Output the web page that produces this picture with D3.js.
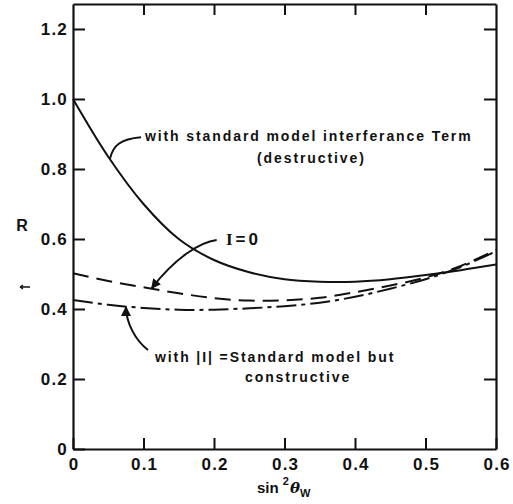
<!DOCTYPE html>
<html>
<head>
<meta charset="utf-8">
<script src="https://cdn.jsdelivr.net/npm/d3@7"></script>
<style>
  html, body { margin: 0; padding: 0; background: #fff; }
  svg { display: block; }
  .tick text { font-family: "Liberation Sans", Arial, sans-serif; font-weight: bold; }
</style>
</head>
<body>
<svg id="chart" width="513" height="504"></svg>
<script>
// sin^2(theta_W) sample points and ratio R for the three cases
const sin2 = [0, 0.05, 0.1, 0.15, 0.2, 0.25, 0.3, 0.35, 0.4, 0.45, 0.5, 0.55, 0.6];
const rDestructive = [1.0, 0.835, 0.70, 0.60, 0.54, 0.505, 0.485, 0.478, 0.478, 0.485, 0.497, 0.511, 0.527];
const rNoInterference = [0.502, 0.48, 0.462, 0.445, 0.431, 0.424, 0.425, 0.432, 0.448, 0.467, 0.49, 0.523, 0.569];
const rConstructive = [0.426, 0.412, 0.403, 0.398, 0.398, 0.402, 0.408, 0.418, 0.435, 0.458, 0.485, 0.52, 0.565];

const xTicks = [0, 0.1, 0.2, 0.3, 0.4, 0.5, 0.6];
const xTickLabels = ["0", "0.1", "0.2", "0.3", "0.4", "0.5", "0.6"];
const yTicks = [0, 0.2, 0.4, 0.6, 0.8, 1.0, 1.2];
const yTickLabels = ["0", "0.2", "0.4", "0.6", "0.8", "1.0", "1.2"];

const svg = d3.select("#chart");
const frame = { left: 73, right: 496, top: 4, bottom: 449 };

const x = d3.scaleLinear().domain([0, 0.6]).range([frame.left, frame.right]);
const y = d3.scaleLinear().domain([0, 1.2714]).range([frame.bottom, frame.top]);

const ink = "#111";

// frame axes, ticks pointing inward
const axisStyle = g => {
  g.select(".domain").attr("stroke", ink).attr("stroke-width", 2.2);
  g.selectAll(".tick line").attr("stroke", ink).attr("stroke-width", 2);
  g.selectAll(".tick text").attr("fill", ink).attr("font-size", 17).attr("letter-spacing", 1.2);
};

svg.append("g")
  .attr("transform", `translate(0,${frame.bottom})`)
  .call(d3.axisBottom(x).tickValues(xTicks).tickSizeInner(-11).tickSizeOuter(0).tickPadding(9)
    .tickFormat((d, i) => xTickLabels[i]))
  .call(axisStyle)
  .call(g => g.selectAll(".tick text").attr("dx", 0.6));

svg.append("g")
  .attr("transform", `translate(${frame.left},0)`)
  .call(d3.axisLeft(y).tickValues(yTicks).tickSizeInner(-12).tickSizeOuter(0).tickPadding(5)
    .tickFormat((d, i) => yTickLabels[i]))
  .call(axisStyle);

svg.append("g")
  .attr("transform", `translate(0,${frame.top})`)
  .call(d3.axisTop(x).tickValues(xTicks.slice(1, -1)).tickSizeInner(-11).tickSizeOuter(0).tickFormat(""))
  .call(axisStyle);

svg.append("g")
  .attr("transform", `translate(${frame.right},0)`)
  .call(d3.axisRight(y).tickValues(yTicks.slice(1)).tickSizeInner(-12).tickSizeOuter(0).tickFormat(""))
  .call(axisStyle);

// curves
const line = d3.line()
  .x((d, i) => x(sin2[i]))
  .y(d => y(d))
  .curve(d3.curveCatmullRom.alpha(0.5));

const series = [
  { values: rDestructive, dash: null },
  { values: rNoInterference, dash: "16,8" },
  { values: rConstructive, dash: "20,5,4,5" }
];

svg.append("g").selectAll("path")
  .data(series)
  .join("path")
  .attr("d", d => line(d.values))
  .attr("fill", "none")
  .attr("stroke", ink)
  .attr("stroke-width", 2)
  .attr("stroke-dasharray", d => d.dash);

// arrowhead for the leader lines
svg.append("defs").append("marker")
  .attr("id", "arrow")
  .attr("viewBox", "0 0 10 10")
  .attr("refX", 9).attr("refY", 5)
  .attr("markerWidth", 5).attr("markerHeight", 5)
  .attr("orient", "auto")
  .append("path")
  .attr("d", "M0,0 L10,5 L0,10 z")
  .attr("fill", ink);

// leader lines (cubic curves, control points in data units)
const leaders = [
  { pts: [[0.0965, 0.891], [0.0667, 0.886], [0.0567, 0.866], [0.0525, 0.83]], arrow: false },
  { pts: [[0.2038, 0.5971], [0.1801, 0.5914], [0.1447, 0.5457], [0.1116, 0.4591]], arrow: true },
  { pts: [[0.1064, 0.2829], [0.0879, 0.3114], [0.0752, 0.3629], [0.0752, 0.4057]], arrow: true }
];

svg.append("g").selectAll("path")
  .data(leaders)
  .join("path")
  .attr("d", d => {
    const p = d3.path();
    const q = d.pts.map(([a, b]) => [x(a), y(b)]);
    p.moveTo(q[0][0], q[0][1]);
    p.bezierCurveTo(q[1][0], q[1][1], q[2][0], q[2][1], q[3][0], q[3][1]);
    return p.toString();
  })
  .attr("fill", "none")
  .attr("stroke", ink)
  .attr("stroke-width", 2)
  .attr("marker-end", d => d.arrow ? "url(#arrow)" : null);

// annotation text
const note = (vx, vy, txt, size = 14) => svg.append("text")
  .attr("x", x(vx)).attr("y", y(vy))
  .attr("font-family", "Liberation Sans, Arial, sans-serif")
  .attr("font-weight", "bold")
  .attr("font-size", size)
  .attr("letter-spacing", 1.9)
  .attr("fill", ink)
  .text(txt);

note(0.1021, 0.880, "with standard model interferance Term");
note(0.261, 0.817, "(destructive)");
note(0.1163, 0.2486, "with |I| =Standard model but");
note(0.244, 0.191, "constructive");

const i0 = svg.append("text")
  .attr("x", x(0.217)).attr("y", y(0.583))
  .attr("font-size", 17)
  .attr("font-weight", "bold")
  .attr("letter-spacing", 3)
  .attr("fill", ink);
i0.append("tspan").attr("font-family", "Liberation Serif, serif").text("I");
i0.append("tspan").attr("font-family", "Liberation Sans, Arial, sans-serif").text("=0");

// axis titles
svg.append("text")
  .attr("x", 22).attr("y", 231)
  .attr("text-anchor", "middle")
  .attr("font-family", "Liberation Sans, Arial, sans-serif")
  .attr("font-weight", "bold")
  .attr("font-size", 16)
  .attr("fill", ink)
  .text("R");

// small stray arrow mark under the R label
svg.append("path")
  .attr("d", "M20,287 L30,287 M20,287 L23,285 M20,287 L23,289")
  .attr("fill", "none")
  .attr("stroke", ink)
  .attr("stroke-width", 1.3);

const xt = svg.append("text")
  .attr("x", 257).attr("y", 493)
  .attr("font-family", "Liberation Sans, Arial, sans-serif")
  .attr("font-weight", "bold")
  .attr("font-size", 15)
  .attr("fill", ink);
xt.append("tspan").text("sin ");
xt.append("tspan").attr("font-size", 11).attr("dy", -8).text("2");
xt.append("tspan").attr("font-family", "DejaVu Serif, serif").attr("font-style", "italic")
  .attr("dx", 1).attr("dy", 8).text("θ");
xt.append("tspan").attr("font-size", 11).attr("dy", 4).text("W");
</script>
</body>
</html>
